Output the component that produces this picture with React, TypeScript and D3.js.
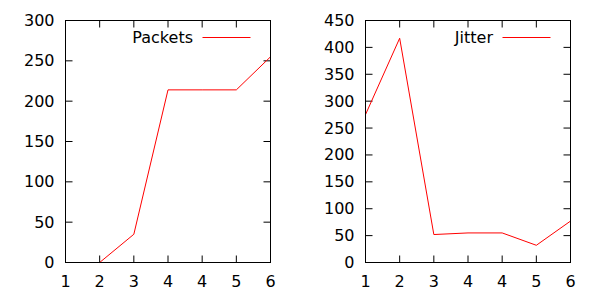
import React from "react";
import * as d3 from "d3";

const xTickLabels = ["1", "2", "3", "4", "4", "5", "6"];
const packetsX = [1, 2, 3, 4, 5, 6];
const packetsY = [0, 35, 214, 214, 214, 255];
const jitterX = [0, 1, 2, 3, 4, 5, 6];
const jitterY = [275, 417, 52, 55, 55, 32, 77];
const packetsTicks = [0, 50, 100, 150, 200, 250, 300];
const jitterTicks = [0, 50, 100, 150, 200, 250, 300, 350, 400, 450];

const FONT = "DejaVu Sans";
const FS = 16;

function Panel({ left, right, top, bottom, xs, ys, yMax, yTicks, name }: any) {
  const x = d3.scaleLinear().domain([0, 6]).range([left, right]);
  const y = d3.scaleLinear().domain([0, yMax]).range([bottom, top]);
  const line = d3
    .line<number>()
    .x((_, i) => x(xs[i]))
    .y((d) => y(d));
  const tl = 7;
  return (
    <g>
      {yTicks.map((t: number) => (
        <g key={"y" + t}>
          <line x1={left} x2={left + tl} y1={y(t)} y2={y(t)} stroke="#000" />
          <line x1={right} x2={right - tl} y1={y(t)} y2={y(t)} stroke="#000" />
          <text
            x={left - 11}
            y={y(t)}
            textAnchor="end"
            dominantBaseline="central"
            fontFamily={FONT}
            fontSize={FS}
          >
            {t}
          </text>
        </g>
      ))}
      {xTickLabels.map((lab, i) => (
        <g key={"x" + i}>
          <line x1={x(i)} x2={x(i)} y1={bottom} y2={bottom - tl} stroke="#000" />
          <line x1={x(i)} x2={x(i)} y1={top} y2={top + tl} stroke="#000" />
          <text
            x={x(i)}
            y={bottom + 24.5}
            textAnchor="middle"
            fontFamily={FONT}
            fontSize={FS}
          >
            {lab}
          </text>
        </g>
      ))}
      <path d={line(ys) || ""} fill="none" stroke="#ff0000" strokeWidth={1} />
      <rect
        x={left}
        y={top}
        width={right - left}
        height={bottom - top}
        fill="none"
        stroke="#000"
      />
      <text
        x={left + 127.5}
        y={37.5}
        textAnchor="end"
        dominantBaseline="central"
        fontFamily={FONT}
        fontSize={FS}
      >
        {name}
      </text>
      <line
        x1={left + 137}
        x2={left + 185}
        y1={37.5}
        y2={37.5}
        stroke="#ff0000"
      />
    </g>
  );
}

export default function App() {
  return (
    <svg
      width={600}
      height={300}
      style={{ position: "absolute", left: 0, top: 0, background: "#fff" }}
    >
      <rect width={600} height={300} fill="#fff" />
      <Panel
        left={65.5}
        right={270.5}
        top={20.5}
        bottom={262.5}
        xs={packetsX}
        ys={packetsY}
        yMax={300}
        yTicks={packetsTicks}
        name="Packets"
      />
      <Panel
        left={365.5}
        right={570.5}
        top={20.5}
        bottom={262.5}
        xs={jitterX}
        ys={jitterY}
        yMax={450}
        yTicks={jitterTicks}
        name="Jitter"
      />
    </svg>
  );
}
